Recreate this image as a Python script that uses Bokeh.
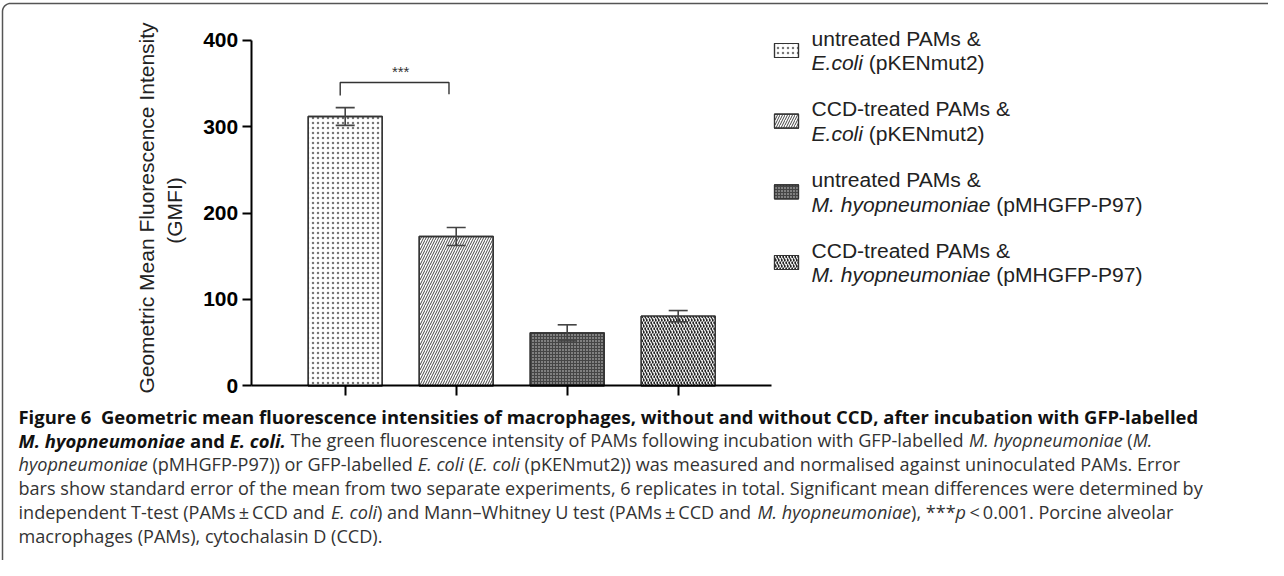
import glob, os, struct, math
from bokeh.plotting import figure
from bokeh.models import (Range1d, LinearAxis, FixedTicker, ColumnDataSource,
                          Whisker, TeeHead)
from bokeh.core.properties import value
from bokeh.embed import file_html
from bokeh.resources import INLINE

# ---------------- data ----------------
cells = ["untreated PAMs", "CCD-treated PAMs", "untreated PAMs", "CCD-treated PAMs"]
organisms = ["E.coli", "E.coli", "M. hyopneumoniae", "M. hyopneumoniae"]
plasmids = ["(pKENmut2)", "(pKENmut2)", "(pMHGFP-P97)", "(pMHGFP-P97)"]
gmfi_mean = [311.7, 172.8, 61.3, 80.6]
gmfi_sem = [10.3, 10.4, 9.3, 6.5]
y_ticks = [0, 100, 200, 300, 400]
y_label = "Geometric Mean Fluorescence Intensity"
y_label2 = "(GMFI)"
sig_pair = (0, 1)
sig_level = 351
sig_text = "***"

caption = [
    [("Figure 6", "B"), ("  Geometric mean fluorescence intensities of macrophages, without and without CCD, after incubation with GFP-labelled", "B")],
    [("M. hyopneumoniae", "BI"), (" and ", "B"), ("E. coli.", "BI"),
     (" The green fluorescence intensity of PAMs following incubation with GFP-labelled ", "R"),
     ("M. hyopneumoniae", "I"), (" (", "R"), ("M.", "I")],
    [("hyopneumoniae", "I"), (" (pMHGFP-P97)) or GFP-labelled ", "R"), ("E. coli", "I"), (" (", "R"),
     ("E. coli", "I"), (" (pKENmut2)) was measured and normalised against uninoculated PAMs. Error", "R")],
    [("bars show standard error of the mean from two separate experiments, 6 replicates in total. Significant mean differences were determined by", "R")],
    [("independent T-test (PAMs\u2009\u00b1\u2009CCD and ", "R"), ("E. coli", "I"),
     (") and Mann\u2013Whitney U test (PAMs\u2009\u00b1\u2009CCD and ", "R"), ("M. hyopneumoniae", "I"),
     ("), ***", "R"), ("p", "I"), ("\u2009<\u20090.001. Porcine alveolar", "R")],
    [("macrophages (PAMs), cytochalasin D (CCD).", "R")],
]

# ---------------- font metrics ----------------
def find_file(name):
    for base in ("/usr/share/fonts", "/usr/local/share/fonts",
                 os.path.expanduser("~/.fonts"), os.path.expanduser("~/.local/share/fonts")):
        hits = glob.glob(os.path.join(base, "**", name), recursive=True)
        if hits:
            return sorted(hits)[0]
    return None


class Metrics:
    def __init__(self, path, fallback=0.5):
        self.ok = False
        self.fallback = fallback
        self.cache = {}
        if path:
            try:
                self._parse(open(path, "rb").read())
                self.ok = True
            except Exception:
                self.ok = False

    def _parse(self, d):
        self.d = d
        base = 0
        if d[:4] == b"ttcf":
            base = struct.unpack(">I", d[12:16])[0]
        nt = struct.unpack(">H", d[base + 4:base + 6])[0]
        tb = {}
        for i in range(nt):
            t, _, off, ln = struct.unpack(">4sIII", d[base + 12 + 16 * i: base + 28 + 16 * i])
            tb[t] = off
        self.upem = struct.unpack(">H", d[tb[b"head"] + 18: tb[b"head"] + 20])[0]
        nhm = struct.unpack(">H", d[tb[b"hhea"] + 34: tb[b"hhea"] + 36])[0]
        h = tb[b"hmtx"]
        self.adv = struct.unpack(">%dH" % (2 * nhm), d[h:h + 4 * nhm])[0::2]
        c = tb[b"cmap"]
        n = struct.unpack(">H", d[c + 2:c + 4])[0]
        sub = None
        for i in range(n):
            pid, eid, so = struct.unpack(">HHI", d[c + 4 + 8 * i: c + 12 + 8 * i])
            fmt = struct.unpack(">H", d[c + so:c + so + 2])[0]
            if fmt == 4 and (sub is None or (pid, eid) == (3, 1)):
                sub = c + so
        s = sub
        segx2 = struct.unpack(">H", d[s + 6:s + 8])[0]
        seg = segx2 // 2
        self.ends = struct.unpack(">%dH" % seg, d[s + 14:s + 14 + segx2])
        self.starts = struct.unpack(">%dH" % seg, d[s + 16 + segx2:s + 16 + 2 * segx2])
        self.deltas = struct.unpack(">%dh" % seg, d[s + 16 + 2 * segx2:s + 16 + 3 * segx2])
        self.ro_off = s + 16 + 3 * segx2
        self.ros = struct.unpack(">%dH" % seg, d[self.ro_off:self.ro_off + segx2])

    def _glyph(self, cp):
        for i in range(len(self.starts)):
            if self.starts[i] <= cp <= self.ends[i]:
                if self.ros[i] == 0:
                    return (cp + self.deltas[i]) & 0xFFFF
                a = self.ro_off + 2 * i + self.ros[i] + 2 * (cp - self.starts[i])
                g = struct.unpack(">H", self.d[a:a + 2])[0]
                return (g + self.deltas[i]) & 0xFFFF if g else 0
        return 0

    def em(self, text):
        if not self.ok:
            return sum(0.27 if ch == " " else self.fallback for ch in text)
        tot = 0
        for ch in text:
            if ch not in self.cache:
                g = self._glyph(ord(ch))
                self.cache[ch] = self.adv[min(g, len(self.adv) - 1)] / self.upem
            tot += self.cache[ch]
        return tot

    def width(self, text, size):
        return self.em(text) * size


CAP_FAMILIES = [
    ("Open Sans", ["OpenSans-Regular.ttf", "OpenSans-Bold.ttf", "OpenSans-Italic.ttf", "OpenSans-BoldItalic.ttf"]),
    ("Lato", ["Lato-Regular.ttf", "Lato-Bold.ttf", "Lato-Italic.ttf", "Lato-BoldItalic.ttf"]),
    ("Noto Sans", ["NotoSans-Regular.ttf", "NotoSans-Bold.ttf", "NotoSans-Italic.ttf", "NotoSans-BoldItalic.ttf"]),
]
cap_family, cap_files = "Open Sans", [None] * 4
for fam, files in CAP_FAMILIES:
    paths = [find_file(f) for f in files]
    if all(paths):
        cap_family, cap_files = fam, paths
        break
capR, capB, capI, capBI = [Metrics(pth) for pth in cap_files]

LEG_FAMILY = "Liberation Sans"
legR = Metrics(find_file("LiberationSans-Regular.ttf"))
legI = Metrics(find_file("LiberationSans-Italic.ttf"))

# font sizes fitted to the measured line widths of the reference
reg_size = 1185.0 / capR.em("".join(s for s, _ in caption[3]))
bold_size = 1181.0 / capB.em("".join(s for s, _ in caption[0]))
leg_size = 200.0 / legR.em("CCD-treated PAMs &")

STY = {
    "R": (cap_family, "normal", reg_size, "#333333", capR),
    "I": (cap_family, "italic", reg_size, "#333333", capI),
    "B": (cap_family, "bold", bold_size, "#111111", capB),
    "BI": (cap_family, "bold italic", bold_size, "#111111", capBI),
    "LR": (LEG_FAMILY, "normal", leg_size, "#222222", legR),
    "LI": (LEG_FAMILY, "italic", leg_size, "#222222", legI),
}

# ---------------- page-pixel <-> data mapping ----------------
W, H = 1268, 560
X0, XS = 352.7, 111.0     # page x of bar 0, px per category
Y0, YS = 393.3, 0.864     # page y of value 0, px per unit


def dx(px):
    return (px - X0) / XS


def dy(py):
    return (Y0 - py) / YS


p = figure(width=W, height=H, x_range=Range1d(dx(8), dx(8 + W)), y_range=Range1d(dy(8 + H), dy(8)),
           x_axis_type=None, y_axis_type=None, toolbar_location=None, output_backend="svg",
           min_border=0)
p.outline_line_color = None
p.background_fill_color = "white"
p.border_fill_color = "white"

# ---------------- border (rounded frame of the figure panel) ----------------
r = 8
bx, by = [10.0], [640.0]
for k in range(0, 11):
    a = math.pi - k * (math.pi / 2) / 10
    bx.append(10 + r + r * math.cos(a))
    by.append(11 + r - r * math.sin(a))
bx.append(1320.0)
by.append(11.0)
p.line([dx(v) for v in bx], [dy(v) for v in by], line_color="#555555", line_width=1.5)

# ---------------- bars ----------------
bar_fill = ["white", "white", "#454545", "#d4d4d4"]
bar_hatch = [".", "/", ".", "/"]
bar_hatch_color = ["#777777", "#444444", "#d8d8d8", "#222222"]
bar_hatch_scale = [5, 5, 3, 6]
bar_hatch_weight = [1.3, 1.0, 1.5, 2.0]
overlay_hatch = [" ", " ", " ", "\\"]

n = len(gmfi_mean)
xs = list(range(n))
src = ColumnDataSource(dict(
    x=xs, top=gmfi_mean,
    upper=[m + s for m, s in zip(gmfi_mean, gmfi_sem)],
    lower=[m - s for m, s in zip(gmfi_mean, gmfi_sem)],
    fill=bar_fill, hatch=bar_hatch, hcol=bar_hatch_color, hscale=bar_hatch_scale,
    hweight=bar_hatch_weight, ohatch=overlay_hatch,
))
BW = 74 / XS
p.vbar(x="x", top="top", bottom=0, width=BW, source=src, fill_color="fill", line_color="#333333",
       line_width=1.3, hatch_pattern="hatch", hatch_color="hcol", hatch_scale="hscale",
       hatch_weight="hweight")
p.vbar(x="x", top="top", bottom=0, width=BW, source=src, fill_alpha=0, line_alpha=0,
       hatch_pattern="ohatch", hatch_color="white", hatch_scale=6, hatch_weight=1.0)
p.vbar(x="x", top="top", bottom=0, width=BW, source=src, fill_alpha=0, line_color="#333333",
       line_width=1.3)

wh = Whisker(source=src, base="x", upper="upper", lower="lower", line_color="#444444", line_width=1.6,
             upper_head=TeeHead(size=19, line_color="#444444", line_width=1.6),
             lower_head=TeeHead(size=19, line_color="#444444", line_width=1.6), level="annotation")
p.add_layout(wh)

# ---------------- axes ----------------
yax = LinearAxis(fixed_location=dx(258.7), bounds=(y_ticks[0], y_ticks[-1]),
                 ticker=FixedTicker(ticks=y_ticks))
yax.axis_line_width = 2
yax.axis_line_color = "black"
yax.major_tick_line_width = 2
yax.major_tick_line_color = "black"
yax.major_tick_out = 9
yax.major_tick_in = 0
yax.minor_tick_line_color = None
yax.major_label_text_font = "Liberation Sans"
yax.major_label_text_font_style = "bold"
yax.major_label_text_font_size = "21px"
yax.major_label_text_color = "black"
yax.major_label_standoff = 4
p.add_layout(yax, "left")

xax = LinearAxis(fixed_location=0, bounds=(dx(259), dx(779)), ticker=FixedTicker(ticks=xs))
xax.axis_line_width = 2
xax.axis_line_color = "black"
xax.major_tick_line_width = 2
xax.major_tick_line_color = "black"
xax.major_tick_out = 10
xax.major_tick_in = 0
xax.minor_tick_line_color = None
xax.major_label_overrides = {i: "" for i in xs}
p.add_layout(xax, "below")

# ---------------- significance bracket ----------------
a0, a1 = sig_pair[0] - 0.045, sig_pair[1] - 0.065
p.line([a0, a0, a1, a1], [336, sig_level, sig_level, 337.5], line_color="#333333", line_width=1.4)

# ---------------- texts ----------------
text_items = {}


def put(x_page, y_page, s, st, align="left", angle=0.0):
    fam, style, size, color, _ = STY[st]
    key = (fam, style, round(size, 2), color, align, angle)
    d = text_items.setdefault(key, dict(x=[], y=[], text=[]))
    d["x"].append(dx(x_page))
    d["y"].append(dy(y_page))
    d["text"].append(s)


def put_line(segs, x_page, y_page):
    x = x_page
    for s, st in segs:
        size, met = STY[st][2], STY[st][4]
        lead = s[:len(s) - len(s.lstrip())]
        core = s.strip()
        if core:
            put(x + met.width(lead, size), y_page, core, st)
        x += met.width(s, size)


# caption
cap_y = [424, 447.8, 471.6, 495.4, 519.2, 543]
for segs, yy in zip(caption, cap_y):
    put_line(segs, 26, yy)

# legend
leg_y0, leg_dy = 58, 70.67
leg_src = ColumnDataSource(dict(
    x=[dx(794)] * n, y=[dy(leg_y0 + i * leg_dy) for i in range(n)],
    fill=bar_fill, hatch=bar_hatch, hcol=bar_hatch_color, hscale=bar_hatch_scale,
    hweight=bar_hatch_weight, ohatch=overlay_hatch))
p.rect(x="x", y="y", width=24 / XS, height=14 / YS, source=leg_src, fill_color="fill",
       line_color="#333333", line_width=1.2, hatch_pattern="hatch", hatch_color="hcol",
       hatch_scale="hscale", hatch_weight="hweight")
p.rect(x="x", y="y", width=24 / XS, height=14 / YS, source=leg_src, fill_alpha=0, line_alpha=0,
       hatch_pattern="ohatch", hatch_color="white", hatch_scale=6, hatch_weight=1.0)
p.rect(x="x", y="y", width=24 / XS, height=14 / YS, source=leg_src, fill_alpha=0,
       line_color="#333333", line_width=1.2)
for i in range(n):
    cy = leg_y0 + i * leg_dy
    put_line([(cells[i] + " &", "LR")], 819, cy - 12.3)
    put_line([(organisms[i], "LI"), (" " + plasmids[i], "LR")], 819, cy + 12.4)

for key, d in text_items.items():
    fam, style, size, color, align, angle = key
    p.text(x="x", y="y", text="text", source=ColumnDataSource(d), text_font=value(fam),
           text_font_style=style, text_font_size=value("%.2fpx" % size), text_color=color,
           text_align=align, text_baseline="middle", angle=angle)

# y-axis title (two lines, rotated)
p.text(x=[dx(154)], y=[dy(215.5)], text=[y_label], text_font=value("Liberation Sans"),
       text_font_size=value("21px"), text_color="#222222", text_align="center",
       text_baseline="middle", angle=math.pi / 2)
p.text(x=[dx(182)], y=[dy(218)], text=[y_label2], text_font=value("Liberation Sans"),
       text_font_size=value("21px"), text_color="#222222", text_align="center",
       text_baseline="middle", angle=math.pi / 2)

# significance stars
p.text(x=[sum(sig_pair) / 2], y=[dy(79)], text=[sig_text], text_font=value("Liberation Sans"),
       text_font_size=value("15px"), text_color="#333333", text_align="center",
       text_baseline="middle")

open("out.html", "w").write(file_html(p, INLINE))
